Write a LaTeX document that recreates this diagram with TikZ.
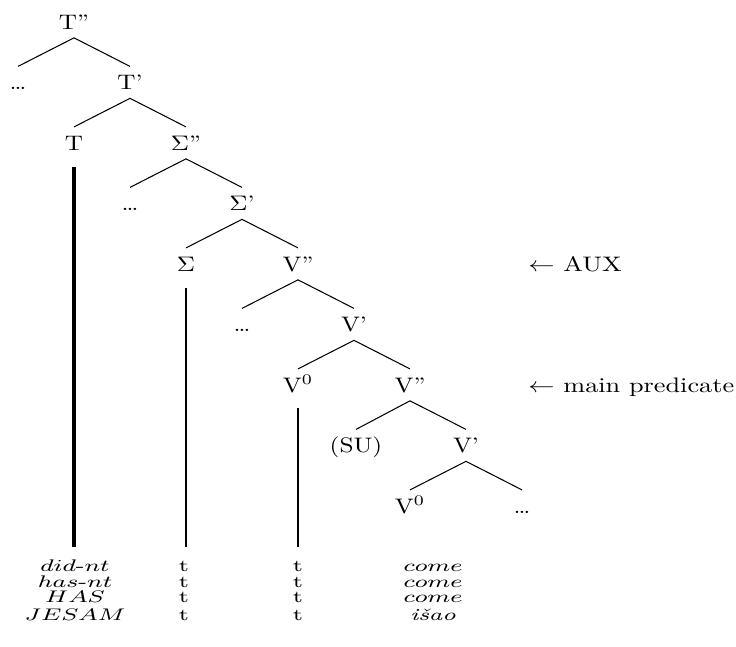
\documentclass[tikz,border=0pt]{standalone}
\usepackage{graphicx}
\newcommand{\wide}[2][1.2]{\scalebox{#1}[1]{#2}}
\begin{document}
\begin{tikzpicture}[x=0.476pt, y=-0.476pt,
    cat/.style={inner sep=0pt, outer ysep=4.2pt, text height=6.8pt, text depth=0pt, anchor=base},
    branch/.style={line width=0.5pt},
    trace/.style={line width=1pt},
    word/.style={inner sep=0pt, anchor=base, font=\fontsize{8}{9}\selectfont}]
    \useasboundingbox (0,0) rectangle (736,646);

    % T-Ebene
    \node[cat] (Tpp) at (74, 29) {\wide{T''}};
    \node[cat] (dotsA) at (18, 89.5) {\wide{\ldots}};
    \node[cat] (Tp) at (130, 89.5) {\wide{T'}};
    \node[cat] (T) at (74, 150) {\wide{T}};
    \node[cat] (Spp) at (186, 150) {\wide{$\Sigma$''}};
    \draw[branch] (Tpp.south) -- (dotsA.north);
    \draw[branch] (Tpp.south) -- (Tp.north);
    \draw[branch] (Tp.south) -- (T.north);
    \draw[branch] (Tp.south) -- (Spp.north);

    % Sigma-Ebene
    \node[cat] (dotsB) at (130, 210.5) {\wide{\ldots}};
    \node[cat] (Sp) at (242, 210.5) {\wide{$\Sigma$'}};
    \node[cat] (S) at (186, 271) {\wide{$\Sigma$}};
    \node[cat] (Vpp) at (298, 271) {\wide{V''}};
    \draw[branch] (Spp.south) -- (dotsB.north);
    \draw[branch] (Spp.south) -- (Sp.north);
    \draw[branch] (Sp.south) -- (S.north);
    \draw[branch] (Sp.south) -- (Vpp.north);

    % V-Ebene (AUX)
    \node[cat] (dotsC) at (242, 331.5) {\wide{\ldots}};
    \node[cat] (Vp) at (354, 331.5) {\wide{V'}};
    \node[cat] (Vz) at (298, 392) {\wide{V$^0$}};
    \node[cat] (Vppb) at (410, 392) {\wide{V''}};
    \draw[branch] (Vpp.south) -- (dotsC.north);
    \draw[branch] (Vpp.south) -- (Vp.north);
    \draw[branch] (Vp.south) -- (Vz.north);
    \draw[branch] (Vp.south) -- (Vppb.north);

    % V-Ebene (Hauptpraedikat)
    \node[cat] (su) at (356, 452.5) {\wide{(SU)}};
    \node[cat] (Vpb) at (466, 452.5) {\wide{V'}};
    \node[cat] (Vzb) at (410, 513) {\wide{V$^0$}};
    \node[cat] (dotsD) at (522, 513) {\wide{\ldots}};
    \draw[branch] (Vppb.south) -- (su.north);
    \draw[branch] (Vppb.south) -- (Vpb.north);
    \draw[branch] (Vpb.south) -- (Vzb.north);
    \draw[branch] (Vpb.south) -- (dotsD.north);

    % Spuren
    \coordinate (bottom) at (0, 547);
    \draw[trace, line width=1.5pt] ([yshift=-4pt]T.south) -- (T.south |- bottom);
    \draw[trace] ([yshift=-4pt]S.south) -- (S.south |- bottom);
    \draw[trace] ([yshift=-3.5pt]Vz.south) -- (Vz.south |- bottom);

    % Beispiele
    \node[word] (ex1a) at (75, 571.5) {\wide[1.45]{$did$-$nt$}};
    \node[word] (ex2a) at (75, 587) {\wide[1.45]{$has$-$nt$}};
    \node[word] (ex3a) at (75, 602.5) {\wide[1.45]{$HAS$}};
    \node[word] (ex4a) at (75, 620.5) {\wide[1.45]{$JESAM$}};
    \foreach \r/\y in {1/571.5, 2/587, 3/602.5, 4/620.5} {
        \node[word] (ex\r b) at (184, \y) {\wide[1.45]{t}};
        \node[word] (ex\r c) at (298, \y) {\wide[1.45]{t}};
    }
    \node[word] (ex1d) at (433, 571.5) {\wide[1.45]{$come$}};
    \node[word] (ex2d) at (433, 587) {\wide[1.45]{$come$}};
    \node[word] (ex3d) at (433, 602.5) {\wide[1.45]{$come$}};
    \node[word] (ex4d) at (433, 620.5) {\wide[1.45]{\textit{i\v{s}ao}}};

    % Markierungen
    \node[cat, outer ysep=0pt, anchor=base west] (aux) at (528, 271) {\wide[1.25]{$\leftarrow$ AUX}};
    \node[cat, outer ysep=0pt, anchor=base west] (pred) at (528, 392) {\wide[1.25]{$\leftarrow$ main predicate}};
\end{tikzpicture}
\end{document}
